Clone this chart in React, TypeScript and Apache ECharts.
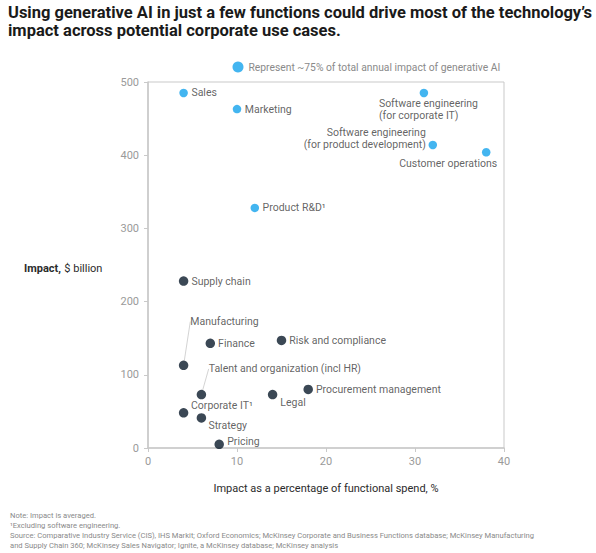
import React, { useEffect, useRef } from "react";
import * as echarts from "echarts";

const titleText =
  "Using generative AI in just a few functions could drive most of the technology’s\nimpact across potential corporate use cases.";
const legendText = "Represent ~75% of total annual impact of generative AI";
const yAxisTitle = ["Impact,", "$ billion"];
const xAxisTitle = "Impact as a percentage of functional spend, %";
const yTicks = [0, 100, 200, 300, 400, 500];
const xTicks = [0, 10, 20, 30, 40];

const blueNames = [
  "Sales",
  "Marketing",
  "Product R&D¹",
  "Software engineering\n(for corporate IT)",
  "Software engineering\n(for product development)",
  "Customer operations",
];
const blueX = [4, 10, 12, 31, 32, 38];
const blueY = [485, 463, 328, 485, 414, 404];

const darkNames = [
  "Supply chain",
  "Manufacturing",
  "Finance",
  "Risk and compliance",
  "Talent and organization (incl HR)",
  "Legal",
  "Procurement management",
  "Corporate IT¹",
  "Strategy",
  "Pricing",
];
const darkX = [4, 4, 7, 15, 6, 14, 18, 4, 6, 8];
const darkY = [228, 113, 143, 147, 73, 73, 80, 48, 41, 5];

const footnotes = [
  "Note: Impact is averaged.",
  "¹Excluding software engineering.",
  "Source: Comparative Industry Service (CIS), IHS Markit; Oxford Economics; McKinsey Corporate and Business Functions database; McKinsey Manufacturing",
  "and Supply Chain 360; McKinsey Sales Navigator; Ignite, a McKinsey database; McKinsey analysis",
];

// label placement (style only): align + offset from the point centre
type Place = { align: string; dx: number; dy: number; lead?: boolean };
const placement: Record<string, Place> = {
  "Software engineering\n(for corporate IT)": { align: "left", dx: -45, dy: 16.5 },
  "Software engineering\n(for product development)": { align: "right", dx: -7, dy: -6.3 },
  "Customer operations": { align: "right", dx: 11, dy: 11.5 },
  Manufacturing: { align: "left", dx: 6.7, dy: -43.7, lead: true },
  "Talent and organization (incl HR)": { align: "left", dx: 7.3, dy: -25.7, lead: true },
  Legal: { align: "left", dx: 7.7, dy: 7.6 },
  "Corporate IT¹": { align: "left", dx: 7.4, dy: -7 },
  Strategy: { align: "left", dx: 7, dy: 8 },
  Pricing: { align: "left", dx: 8, dy: -3.3 },
};
const defaultPlace: Place = { align: "left", dx: 7.8, dy: 0 };

const BLUE = "#14a2ec";
const DARK = "#0a1a2b";
const FONT = "Roboto, 'Liberation Sans', Arial, sans-serif";

function buildData(names: string[], xs: number[], ys: number[]) {
  return names.map((n, i) => {
    const p = placement[n] || defaultPlace;
    const item: any = { name: n, value: [xs[i], ys[i]] };
    if (p.lead) {
      item.labelLine = { show: true, lineStyle: { color: "#c8c8c8", width: 0.8 } };
    }
    return item;
  });
}

export default function App() {
  const ref = useRef<HTMLDivElement>(null);
  useEffect(() => {
    if (!ref.current) return;
    const chart = echarts.init(ref.current, undefined, { renderer: "svg" });
    const labelStyle = {
      show: true,
      position: "right",
      formatter: "{b}",
      color: "#3b3b3b",
      fontSize: 10.5,
      lineHeight: 12.5,
      fontFamily: FONT,
    };
    const layoutFor = (names: string[]) => (params: any) => {
      const p = placement[names[params.dataIndex]] || defaultPlace;
      const r = params.rect;
      return {
        x: r.x + r.width / 2 + p.dx,
        y: r.y + r.height / 2 + p.dy,
        align: p.align,
        verticalAlign: "middle",
      };
    };
    chart.setOption({
      animation: false,
      textStyle: { fontFamily: FONT },
      title: {
        text: titleText,
        left: 8,
        top: 3,
        padding: 0,
        textStyle: {
          fontSize: 16.5,
          fontWeight: "bold",
          color: "#1a1a1a",
          lineHeight: 18,
          fontFamily: FONT,
        },
      },
      legend: {
        data: [legendText],
        left: 232.5,
        top: 61.5,
        padding: 0,
        icon: "circle",
        itemWidth: 11,
        itemHeight: 11,
        itemGap: 5,
        textStyle: { color: "#8a8a8a", fontSize: 10.3, fontFamily: FONT },
      },
      grid: {
        left: 148,
        right: 92,
        top: 82,
        bottom: 105,
        show: true,
        borderColor: "#c9c9c9",
        borderWidth: 1,
      },
      xAxis: {
        type: "value",
        min: xTicks[0],
        max: xTicks[xTicks.length - 1],
        interval: 10,
        name: xAxisTitle,
        nameLocation: "middle",
        nameGap: 35,
        nameTextStyle: { color: "#2b2b2b", fontSize: 11, fontFamily: FONT },
        axisLine: { show: true, lineStyle: { color: "#c9c9c9", width: 1.5 } },
        axisTick: { show: true, length: 4, lineStyle: { color: "#c9c9c9" } },
        axisLabel: { color: "#9a9a9a", fontSize: 11, margin: 8 },
        splitLine: { show: false },
      },
      yAxis: {
        type: "value",
        min: yTicks[0],
        max: yTicks[yTicks.length - 1],
        interval: 100,
        axisLine: { show: true, lineStyle: { color: "#c9c9c9", width: 1.5 } },
        axisTick: { show: true, length: 4, lineStyle: { color: "#c9c9c9" } },
        axisLabel: { color: "#9a9a9a", fontSize: 11, margin: 9 },
        splitLine: { show: false },
      },
      graphic: [
        {
          type: "text",
          left: 24,
          top: 262,
          style: {
            text: `{b|${yAxisTitle[0]}} {n|${yAxisTitle[1]}}`,
            rich: {
              b: { fontWeight: "bold", fontSize: 11, fill: "#2b2b2b", fontFamily: FONT },
              n: { fontSize: 11, fill: "#2b2b2b", fontFamily: FONT },
            },
          } as any,
        },
        ...footnotes.map((t, i) => ({
          type: "text",
          left: 10,
          top: 511.5 + i * 10.1,
          style: { text: t, fontSize: 7.6, fill: "#8a8a8a", fontFamily: FONT },
        })),
      ],
      series: [
        {
          name: legendText,
          type: "scatter",
          symbolSize: 8.5,
          itemStyle: { color: BLUE },
          label: labelStyle,
          labelLayout: layoutFor(blueNames),
          data: buildData(blueNames, blueX, blueY),
          z: 3,
        },
        {
          name: "Other functions",
          type: "scatter",
          symbolSize: 9.5,
          itemStyle: { color: DARK },
          label: labelStyle,
          labelLayout: layoutFor(darkNames),
          data: buildData(darkNames, darkX, darkY),
          z: 3,
        },
      ],
    });
    return () => chart.dispose();
  }, []);
  return (
    <div
      ref={ref}
      style={{ position: "absolute", left: 0, top: 0, width: 596, height: 553 }}
    />
  );
}
